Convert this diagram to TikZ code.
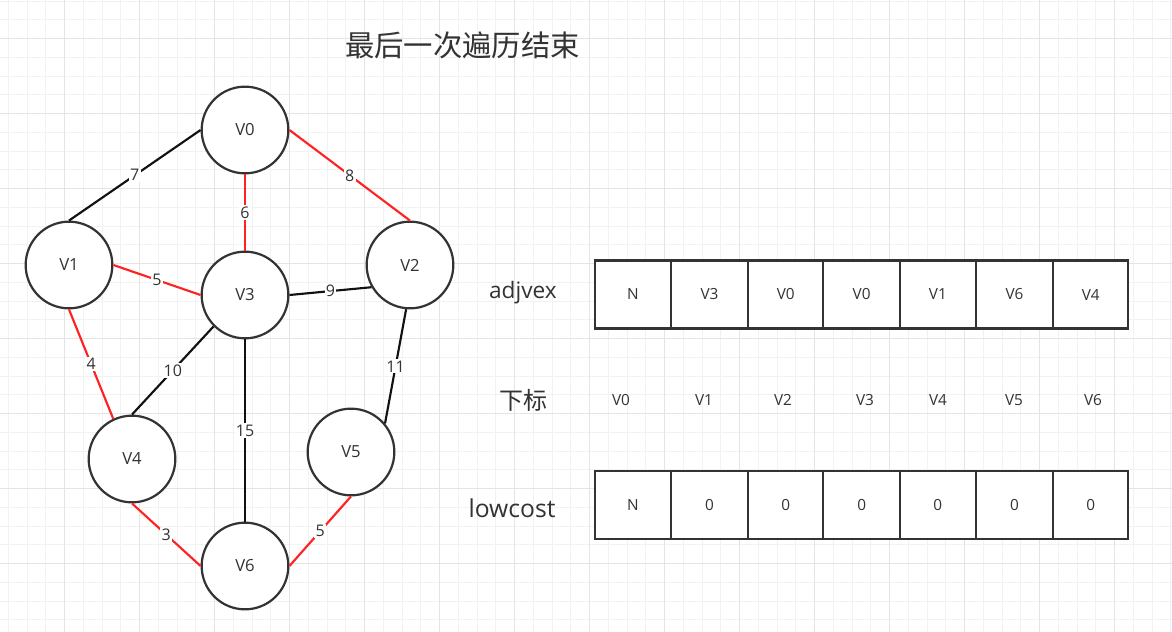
\documentclass[tikz,border=0pt]{standalone}
\usepackage{fontspec}
\setmainfont{Open Sans}
\newfontfamily\cjk{Noto Sans CJK SC}
\definecolor{minorgrid}{RGB}{242,242,242}
\definecolor{majorgrid}{RGB}{228,228,228}
\definecolor{txt}{RGB}{51,51,51}
\definecolor{stroke}{RGB}{51,51,51}
\definecolor{redge}{RGB}{255,34,34}
\definecolor{bedge}{RGB}{17,17,17}
\tikzset{
  vtx/.style={circle, draw=stroke, line width=1.65pt, fill=white, minimum size=65pt, inner sep=0pt, text=txt, font=\fontsize{12.5}{14}\selectfont},
  redline/.style={draw=redge, line width=1.6pt},
  blackline/.style={draw=bedge, line width=1.6pt},
  wlabel/.style={fill=white, inner sep=1pt, text=txt, font=\fontsize{12}{13}\selectfont},
  cell/.style={draw=stroke, line width=1.65pt, fill=white, minimum height=51pt, inner sep=0pt, text=txt, font=\fontsize{11.5}{13}\selectfont},
  idx/.style={text=txt, inner sep=0pt, font=\fontsize{11.5}{13}\selectfont},
  rowlabel/.style={text=txt, inner sep=0pt, font=\fontsize{17}{20}\selectfont},
}
\begin{document}
\begin{tikzpicture}[x=0.75pt,y=-0.75pt]
\useasboundingbox (0,0) rectangle (1172,632);
\fill[white] (0,0) rectangle (1172,632);
% grid
\foreach \i [evaluate=\i as \x using 8.3+18.75*\i] in {0,...,62} {\draw[minorgrid, line width=0.75pt] (\x,0) -- (\x,632);}
\foreach \i [evaluate=\i as \y using 1+18.75*\i] in {0,...,33} {\draw[minorgrid, line width=0.75pt] (0,\y) -- (1172,\y);}
\foreach \i [evaluate=\i as \x using 64.3+75*\i] in {0,...,14} {\draw[majorgrid, line width=0.75pt] (\x,0) -- (\x,632);}
\foreach \i [evaluate=\i as \y using 38.5+75*\i] in {0,...,7} {\draw[majorgrid, line width=0.75pt] (0,\y) -- (1172,\y);}

% title
\node[text=txt, inner sep=0pt, font=\cjk\fontsize{22}{26}\selectfont] (title) at (462.5,45) {最后一次遍历结束};

% vertices
\node[vtx] (v0) at (245,130) {V0};
\node[vtx] (v1) at (69,265) {V1};
\node[vtx] (v2) at (410,265) {V2};
\node[vtx] (v3) at (245,295) {V3};
\node[vtx] (v4) at (132,459) {V4};
\node[vtx] (v5) at (351,452) {V5};
\node[vtx] (v6) at (245,566) {V6};

% edges
\path[blackline] (v0.west) -- node[wlabel] {7} (v1.north);
\path[redline] (v0.east) -- node[wlabel] {8} (v2.north);
\path[redline] (v0.south) -- node[wlabel] {6} (v3.north);
\path[redline] (v1.east) -- node[wlabel] {5} (v3.west);
\path[blackline] (v3.east) -- node[wlabel] {9} (v2.-150);
\path[redline] (v1.south) -- node[wlabel] {4} (v4.115);
\path[blackline] (v3.-135) -- node[wlabel] {10} (v4.north);
\path[blackline] (v3.south) -- node[wlabel] {15} (v6.north);
\path[blackline] (v2.-95) -- node[wlabel] {11} (v5.40);
\path[redline] (v4.south) -- node[wlabel] {3} (v6.west);
\path[redline] (v6.east) -- node[wlabel] {5} (v5.south);

% row labels
\node[rowlabel] (ladj) at (523,293) {adjvex};
\node[rowlabel, font=\cjk\fontsize{18}{20}\selectfont] (lidx) at (523,400) {下标};
\node[rowlabel, font=\fontsize{18.5}{20}\selectfont] (llow) at (512,508) {lowcost};

% cells
\foreach \a/\b/\t/\u [count=\i] in {595/670.7/N/N, 670.7/748.3/V3/0, 748.3/823.3/V0/0, 823.3/900/V0/0, 900/975.7/V1/0, 975.7/1053.3/V6/0, 1053.3/1128.3/V4/0} {
  \node[cell, minimum width={(\b-\a)*0.75pt}] (top\i) at ({(\a+\b)/2},294.5) {\t};
  \node[cell, minimum width={(\b-\a)*0.75pt}] (bot\i) at ({(\a+\b)/2},505.3) {\u};
}
\foreach \x/\v [count=\i] in {621/V0, 704/V1, 783/V2, 865/V3, 938/V4, 1014/V5, 1093/V6} {
  \node[idx] (idx\i) at (\x,400) {\v};
}
\end{tikzpicture}
\end{document}
